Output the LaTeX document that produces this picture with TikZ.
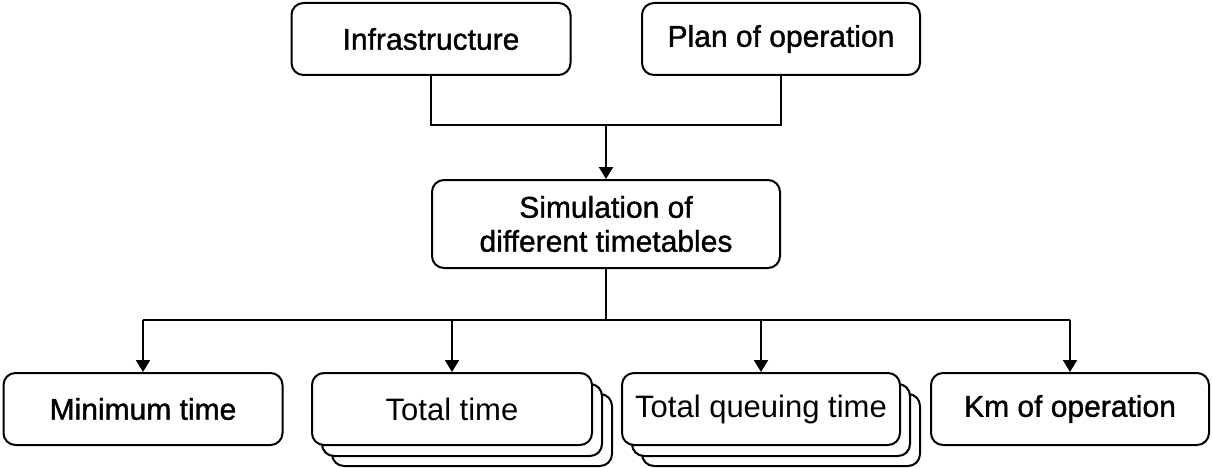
\documentclass[tikz,border=0pt]{standalone}
\usepackage{fontspec}
\setmainfont{Liberation Sans}
\newfontfamily\heavyfont[FakeBold=1.2]{Liberation Sans}
\usetikzlibrary{arrows.meta}
\begin{document}
\begin{tikzpicture}[x=1pt,y=-1pt,
  box/.style={draw,line width=2pt,rounded corners=12pt,fill=white,inner sep=0pt,align=center},
  heavy/.style={font=\heavyfont\fontsize{30}{34}\selectfont},
  light/.style={font=\fontsize{31}{34}\selectfont},
  conn/.style={line width=2pt},
  arr/.style={conn,-{Triangle[width=14pt,length=12pt]}}]
\useasboundingbox (0,0) rectangle (1212,468);
\node[box,heavy,minimum width=279pt,minimum height=72pt] (infra) at (431,39) {Infrastructure};
\node[box,heavy,minimum width=278pt,minimum height=72pt] (plan) at (781,39) {Plan of operation};
\node[box,heavy,minimum width=348pt,minimum height=88pt] (sim) at (606,224) {Simulation of\\different timetables};
\node[box,heavy,minimum width=279pt,minimum height=72pt] (min) at (143,409) {Minimum time};
\node[box,minimum width=280pt,minimum height=72pt] (tt3) at (472,430) {};
\node[box,minimum width=280pt,minimum height=72pt] (tt2) at (462,420) {};
\node[box,light,minimum width=280pt,minimum height=72pt] (tt) at (452,409) {Total time};
\node[box,minimum width=278pt,minimum height=72pt] (tq3) at (781,430) {};
\node[box,minimum width=278pt,minimum height=72pt] (tq2) at (771,420) {};
\node[box,light,minimum width=278pt,minimum height=72pt] (tq) at (761,409) {Total queuing time};
\node[box,heavy,minimum width=278pt,minimum height=72pt] (km) at (1070,409) {Km of operation};
\coordinate (j1) at (606,125);
\coordinate (j2) at (606,320);
\draw[conn] (infra.south) |- (j1) -| (plan.south);
\draw[arr] (j1) -- (sim.north);
\draw[conn] (sim.south) -- (j2);
\draw[conn] (min.north |- j2) -- (km.north |- j2);
\draw[arr] (min.north |- j2) -- (min.north);
\draw[arr] (tt.north |- j2) -- (tt.north);
\draw[arr] (tq.north |- j2) -- (tq.north);
\draw[arr] (km.north |- j2) -- (km.north);
\end{tikzpicture}
\end{document}
